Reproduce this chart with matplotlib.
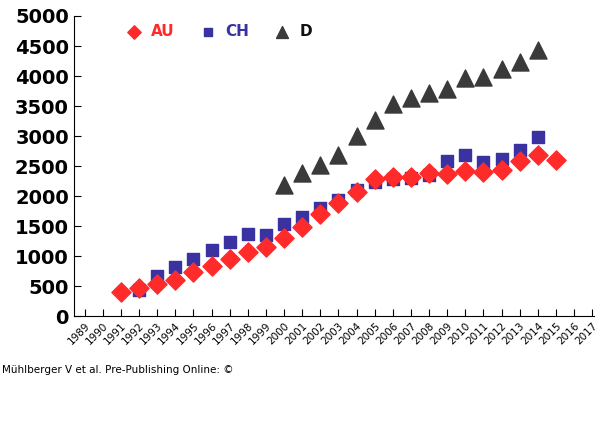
import matplotlib
matplotlib.use("Agg")
import matplotlib.pyplot as plt

au_years = list(range(1991, 2016))
au_vals = [400,470,540,610,740,840,950,1070,1150,1300,1480,1700,1880,2060,2290,2310,2320,2380,2360,2420,2400,2440,2580,2690,2600]
ch_years = list(range(1992, 2015))
ch_vals = [440,670,820,960,1100,1240,1370,1360,1540,1660,1800,1940,2100,2230,2280,2300,2350,2580,2690,2560,2620,2760,2980]
d_years = list(range(2000, 2015))
d_vals = [2180,2380,2520,2680,3000,3270,3530,3630,3710,3790,3960,3990,4120,4230,4440]
tick_years = list(range(1989, 2018))

fig = plt.figure(figsize=(6, 4.21), dpi=100)
ax = fig.add_axes([0.123, 0.249, 0.867, 0.713])
ax.scatter(au_years, au_vals, marker='D', s=95, color='#FF2A2A', zorder=3, label='AU')
ax.scatter(ch_years, ch_vals, marker='s', s=85, color='#3A32A0', zorder=2, label='CH')
ax.scatter(d_years, d_vals, marker='^', s=150, color='#3A3A3A', zorder=2, label='D')
ax.set_xlim(1988.4, 2017.1)
ax.set_ylim(0, 5000)
ax.set_xticks(tick_years)
ax.set_xticklabels([str(y) for y in tick_years], rotation=45, fontsize=7.5, ha='right', rotation_mode='anchor')
ax.set_yticks(range(0, 5001, 500))
ax.tick_params(axis='y', labelsize=14, length=5, direction='in')
ax.tick_params(axis='x', length=5, direction='in')
for l in ax.get_yticklabels():
    l.set_fontweight('bold')
for s in ['top', 'right']:
    ax.spines[s].set_visible(False)
leg = ax.legend(loc='upper left', ncol=3, frameon=False, fontsize=11, handletextpad=0.1,
                columnspacing=1.2, markerscale=0.7, bbox_to_anchor=(0.06, 1.02))
for t, c in zip(leg.get_texts(), ['#FF2A2A', '#3A32A0', '#111111']):
    t.set_color(c); t.set_fontweight('bold')
fig.text(0.003, 0.115, "Mühlberger V et al. Pre-Publishing Online: ©", fontsize=7.5)
fig.savefig("out.png")
